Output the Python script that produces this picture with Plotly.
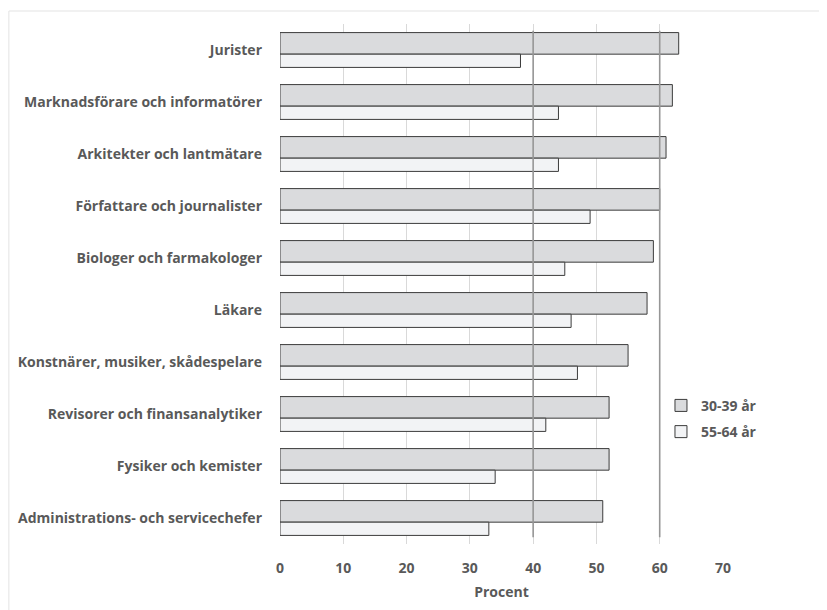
import plotly.graph_objects as go

categories = [
    "Jurister",
    "Marknadsförare och informatörer",
    "Arkitekter och lantmätare",
    "Författare och journalister",
    "Biologer och farmakologer",
    "Läkare",
    "Konstnärer, musiker, skådespelare",
    "Revisorer och finansanalytiker",
    "Fysiker och kemister",
    "Administrations- och servicechefer",
]
series_names = ["30-39 år", "55-64 år"]
values_30_39 = [63, 62, 61, 60, 59, 58, 55, 52, 52, 51]
values_55_64 = [38, 44, 44, 49, 45, 46, 47, 42, 34, 33]
x_ticks = [0, 10, 20, 30, 40, 50, 60, 70]
ref_lines = [40, 60]

FONT = "Open Sans"
TXT = "#595959"
FS = 14

fig = go.Figure()
fig.add_trace(go.Bar(
    y=categories, x=values_30_39, orientation="h", name=series_names[0],
    legendgroup="a",
    marker=dict(color="#dadbdd", line=dict(color="#3c3c3c", width=1)),
    offset=-0.335, width=0.415,
))
fig.add_trace(go.Bar(
    y=categories, x=values_55_64, orientation="h", name=series_names[1],
    legendgroup="b",
    marker=dict(color="#f2f3f5", line=dict(color="#3c3c3c", width=1)),
    offset=0.08, width=0.255,
))

for v in ref_lines:
    fig.add_shape(type="line", xref="x", yref="paper", x0=v, x1=v, y0=0.013, y1=0.987,
                  line=dict(color="#969696", width=1.6), layer="above")

# outer chart frame (left/top edges visible)
fig.add_shape(type="line", xref="paper", yref="paper", x0=-0.612, x1=1.3, y0=1.025, y1=1.025,
              line=dict(color="#e3e3e3", width=1))
fig.add_shape(type="line", xref="paper", yref="paper", x0=-0.612, x1=-0.612, y0=-0.15, y1=1.025,
              line=dict(color="#e3e3e3", width=1))

fig.update_layout(
    width=819, height=602,
    margin=dict(l=272, r=104, t=16, b=66, autoexpand=False),
    paper_bgcolor="white", plot_bgcolor="white",
    barmode="overlay",
    font=dict(family=FONT, size=FS, color=TXT),
    showlegend=True,
    legend=dict(x=0.86, y=0.2965, xanchor="left", yanchor="top",
                bgcolor="rgba(0,0,0,0)", traceorder="grouped",
                font=dict(family=FONT, size=FS, color=TXT, weight="bold"),
                itemwidth=30, tracegroupgap=5),
    xaxis=dict(range=[0, 70], tickvals=x_ticks, showgrid=True, gridcolor="#d9d9d9", gridwidth=1,
               zeroline=False, showline=False, automargin=False,
               tickfont=dict(family=FONT, size=FS, color=TXT, weight="bold"),
               ticklabelstandoff=14,
               title=dict(text="Procent", standoff=11,
                          font=dict(family=FONT, size=FS, color=TXT, weight="bold"))),
    yaxis=dict(range=[9.5, -0.5], showgrid=False, zeroline=False, showline=False,
               ticks="", ticklabelstandoff=17, automargin=False,
               tickfont=dict(family=FONT, size=FS, color=TXT, weight="bold")),
)

fig.write_html("out.html")
